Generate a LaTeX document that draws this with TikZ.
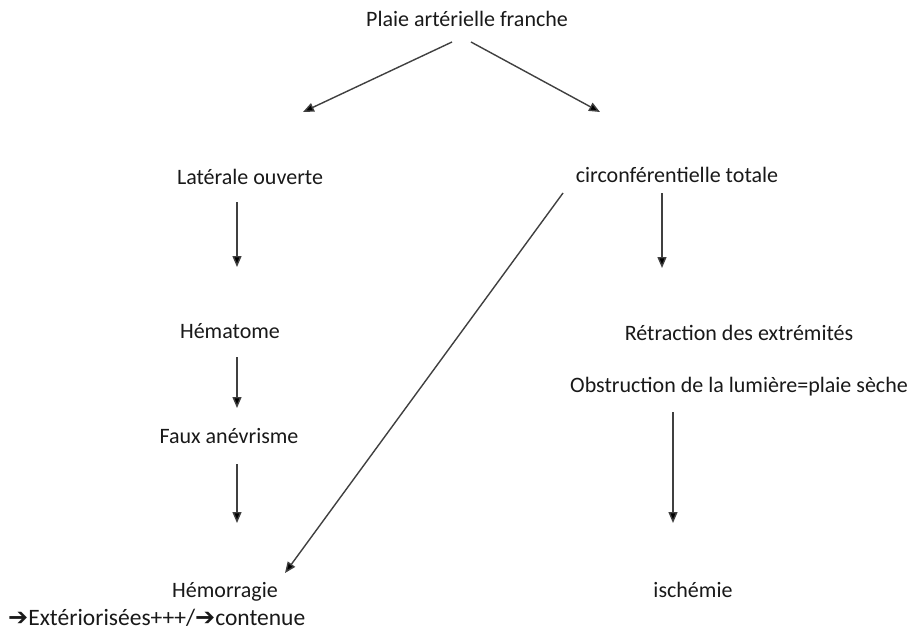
\documentclass[tikz,border=0pt]{standalone}
\usepackage{fontspec}
\setmainfont{Carlito}
\newfontfamily\symfont{DejaVu Sans}
\usetikzlibrary{arrows.meta,calc}
\tikzset{
  lbl/.style={anchor=base,inner sep=0pt,text=black!90,font=\fontsize{22}{26}\selectfont},
  arr/.style={draw=black!75,line width=1.4pt,-{Triangle[length=11pt,width=9pt,fill=black]}}
}
\newcommand{\barrow}{{\symfont\fontsize{24}{26}\selectfont ➔}}
\begin{document}
\begin{tikzpicture}[x=1pt,y=-1pt]
\useasboundingbox[fill=white] (0,0) rectangle (917,635);
\node[lbl] (plaie) at (467,26) {Plaie artérielle franche};
\node[lbl] (lat) at (250,184) {Latérale ouverte};
\node[lbl] (circ) at (677,182) {circonférentielle totale};
\node[lbl] (hemat) at (230,338) {Hématome};
\node[lbl] (ret) at (739,340) {Rétraction des extrémités};
\node[lbl] (obs) at (739,392) {Obstruction de la lumière=plaie sèche};
\node[lbl] (faux) at (229,443) {Faux anévrisme};
\node[lbl] (hemor) at (225,597) {Hémorragie};
\node[lbl] (isch) at (693,597) {ischémie};
\node[lbl,anchor=base west,font=\fontsize{23.5}{26}\selectfont] (ext) at (8,625) {\barrow Extériorisées+++/\barrow contenue};
\draw[arr] ($(plaie.base)+(-15,16)$) -- ($(lat.base)+(53,-72)$);
\draw[arr] ($(plaie.base)+(4,16)$) -- ($(circ.base)+(-77,-70)$);
\draw[arr] ($(lat.base)+(-13,18)$) -- ($(hemat.base)+(7,-71)$);
\draw[arr] ($(hemat.base)+(7,19)$) -- ($(faux.base)+(8,-35)$);
\draw[arr] ($(faux.base)+(8,21)$) -- ($(hemor.base)+(12,-74)$);
\draw[arr] ($(circ.base)+(-114,11)$) -- ($(hemor.base)+(60,-24)$);
\draw[arr] ($(circ.base)+(-15,11)$) -- ($(ret.base)+(-77,-72)$);
\draw[arr] ($(obs.base)+(-66,20)$) -- ($(isch.base)+(-20,-74)$);
\end{tikzpicture}
\end{document}
